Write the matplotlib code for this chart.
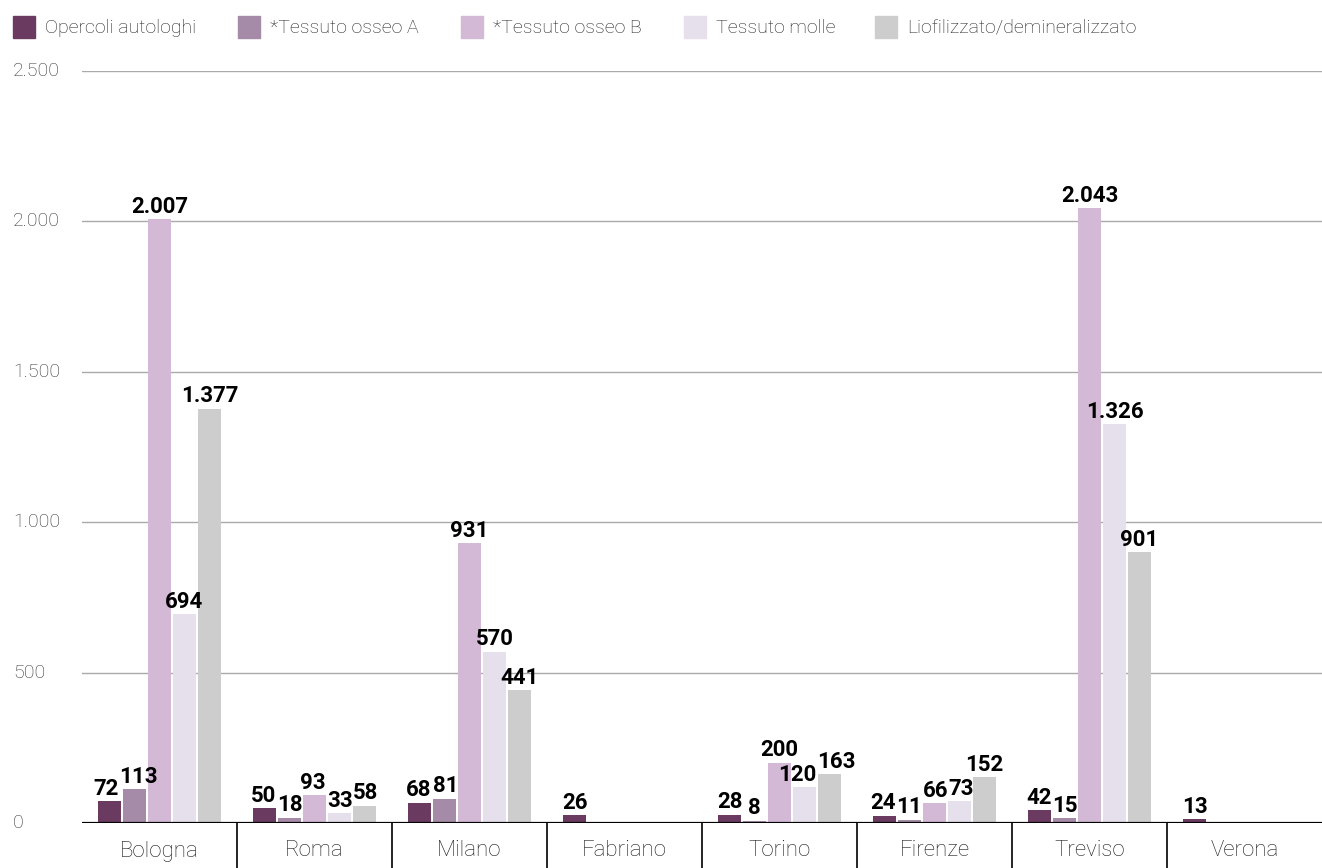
import matplotlib
matplotlib.use("Agg")
import matplotlib.pyplot as plt
import matplotlib.transforms as mtransforms
from matplotlib.patches import Rectangle
import numpy as np

plt.rcParams['font.family'] = ['Roboto', 'DejaVu Sans']

categories = ["Bologna", "Roma", "Milano", "Fabriano", "Torino", "Firenze", "Treviso", "Verona"]
series_names = ["Opercoli autologhi", "*Tessuto osseo A", "*Tessuto osseo B",
                "Tessuto molle", "Liofilizzato/demineralizzato"]
opercoli = [72, 50, 68, 26, 28, 24, 42, 13]
osseo_a = [113, 18, 81, None, 8, 11, 15, None]
osseo_b = [2007, 93, 931, None, 200, 66, 2043, None]
molle = [694, 33, 570, None, 120, 73, 1326, None]
liofilizzato = [1377, 58, 441, None, 163, 152, 901, None]
y_ticks = [0, 500, 1000, 1500, 2000, 2500]
y_tick_labels = ["0", "500", "1.000", "1.500", "2.000", "2.500"]

colors = ["#6b3a61", "#a68ba8", "#d4b9d7", "#e6dfec", "#cdcdcd"]
series = [opercoli, osseo_a, osseo_b, molle, liofilizzato]

W, H = 1322, 868
fig = plt.figure(figsize=(W / 100, H / 100), dpi=100)
ax_left, ax_right, ax_bottom, ax_top = 82, 1322, 823, 71
ax = fig.add_axes([ax_left / W, (H - ax_bottom) / H, (ax_right - ax_left) / W, (ax_bottom - ax_top) / H])

def fmt(v):
    return f"{int(v):,}".replace(",", ".")

n = len(series)
pitch = 0.161
bw = 0.148
x = np.arange(len(categories))
groups = [[] for _ in categories]
for k, (vals, c) in enumerate(zip(series, colors)):
    off = (k - (n - 1) / 2) * pitch
    for i, v in enumerate(vals):
        if v is None:
            continue
        ax.bar(x[i] + off, v, width=bw, color=c, zorder=3)
        a = ax.annotate(fmt(v), (x[i] + off, v), xytext=(0, 1), textcoords="offset points",
                        ha="center", va="bottom", fontsize=16, fontweight="bold",
                        color="#000000", zorder=4)
        groups[i].append(a)

ax.set_xlim(-0.5, len(categories) - 0.5)
ax.set_ylim(0, 2500)
for t in y_ticks[1:]:
    ax.axhline(t, color="#aaaaaa", lw=1.0, zorder=1)
ax.axhline(0, color="#000000", lw=1.6, zorder=5)
for s in ax.spines.values():
    s.set_visible(False)
ax.set_xticks([])
ax.set_yticks([])

# nudge overlapping value labels apart horizontally
fig.canvas.draw()
renderer = fig.canvas.get_renderer()
shifts = {}
for g in groups:
    for _ in range(6):
        moved = False
        for a1, a2 in zip(g[:-1], g[1:]):
            b1 = a1.get_window_extent(renderer)
            b2 = a2.get_window_extent(renderer)
            ov_x = b1.x1 - b2.x0
            ov_y = min(b1.y1, b2.y1) - max(b1.y0, b2.y0)
            if ov_x > 0 and ov_y > 2:
                d = (ov_x + 1) / 2 * 72 / fig.dpi
                p1 = a1.xyann
                p2 = a2.xyann
                a1.xyann = (p1[0] - d, p1[1])
                a2.xyann = (p2[0] + d, p2[1])
                moved = True
        if not moved:
            break
        fig.canvas.draw()

# y tick labels
trans_y = mtransforms.blended_transform_factory(fig.transFigure, ax.transData)
for t, lab in zip(y_ticks, y_tick_labels):
    ax.text(13 / W, t, lab, transform=trans_y, ha="left", va="center",
            fontsize=14, fontweight="light", color="#333333")

# category separators and labels
trans_x = mtransforms.blended_transform_factory(ax.transData, fig.transFigure)
for i in range(len(categories) - 1):
    ax.plot([i + 0.5, i + 0.5], [(H - 823) / H, 0], transform=trans_x,
            color="#000000", lw=1.2, clip_on=False)
for i, cat in enumerate(categories):
    ax.text(i, (H - 851) / H, cat, transform=trans_x, ha="center", va="center",
            fontsize=16, fontweight="light", color="#1a1a1a")

# legend
legend_x = [13, 238, 461, 684, 875]
for lx, name, c in zip(legend_x, series_names, colors):
    fig.patches.append(Rectangle((lx / W, (H - 38) / H), 22 / W, 22 / H,
                                 transform=fig.transFigure, color=c, figure=fig))
    fig.text((lx + 32) / W, (H - 28) / H, name, ha="left", va="center",
             fontsize=14, fontweight="light", color="#222222")

fig.savefig("out.png", dpi=100)
